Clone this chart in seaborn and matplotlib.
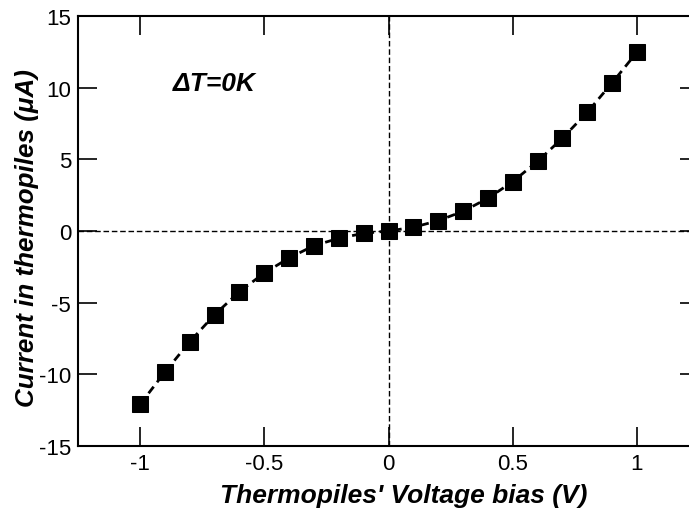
import numpy as np
import pandas as pd
import matplotlib
matplotlib.use("Agg")
import matplotlib.pyplot as plt
import seaborn as sns

voltage = [-1.0, -0.9, -0.8, -0.7, -0.6, -0.5, -0.4, -0.3, -0.2, -0.1, 0.0,
           0.1, 0.2, 0.3, 0.4, 0.5, 0.6, 0.7, 0.8, 0.9, 1.0]
current = [-12.09, -9.84, -7.72, -5.84, -4.23, -2.93, -1.88, -1.02, -0.51, -0.16, 0.0,
           0.26, 0.72, 1.37, 2.28, 3.44, 4.86, 6.47, 8.28, 10.33, 12.47]
xticks = [-1, -0.5, 0, 0.5, 1]
xticklabels = ["-1", "-0.5", "0", "0.5", "1"]
yticks = [-15, -10, -5, 0, 5, 10, 15]
yticklabels = ["-15", "-10", "-5", "0", "5", "10", "15"]

sns.set_style("white")
plt.rcParams['font.family'] = ['Liberation Sans', 'DejaVu Sans']
plt.rcParams['text.color'] = 'black'
plt.rcParams['axes.labelcolor'] = 'black'
plt.rcParams['xtick.color'] = 'black'
plt.rcParams['ytick.color'] = 'black'

df = pd.DataFrame({"V": voltage, "I": current})

fig = plt.figure(figsize=(6.89, 5.10), dpi=100)
ax = fig.add_axes([78/689, 63/510, (699-78)/689, (447-17)/510])

ax.axhline(0, color="black", lw=1.0, ls=(0, (4, 2)), zorder=1)
ax.axvline(0, color="black", lw=1.0, ls=(0, (4, 2)), zorder=1)

sns.lineplot(data=df, x="V", y="I", ax=ax, color="black", lw=2.0,
             linestyle=(0, (3, 2)), marker="s", markersize=12,
             markeredgecolor="black", markerfacecolor="black", zorder=3)

ax.set_xlim(-1.25, 1.25)
ax.set_ylim(-15, 15)
ax.set_xticks(xticks)
ax.set_xticklabels(xticklabels)
ax.set_yticks(yticks)
ax.set_yticklabels(yticklabels)
ax.tick_params(axis="both", direction="in", length=14, width=1.2,
               top=True, right=True, bottom=True, left=True,
               labelsize=16, pad=5, colors="black")
for s in ax.spines.values():
    s.set_visible(True)
    s.set_linewidth(1.5)
    s.set_color("black")

ax.set_xlabel("Thermopiles' Voltage bias (V)", fontsize=19, fontweight="bold",
              fontstyle="italic")
ax.set_ylabel("Current in thermopiles (\u03bcA)", fontsize=18.7, fontweight="bold",
              fontstyle="italic")
ax.xaxis.set_label_coords(0.525, -0.086)
ax.yaxis.set_label_coords(-0.062, 0.485)
ax.text(-0.7, 10.3, "\u0394T=0K", fontsize=19, fontweight="bold",
        fontstyle="italic", ha="center", va="center")

fig.savefig("out.png", dpi=100)
